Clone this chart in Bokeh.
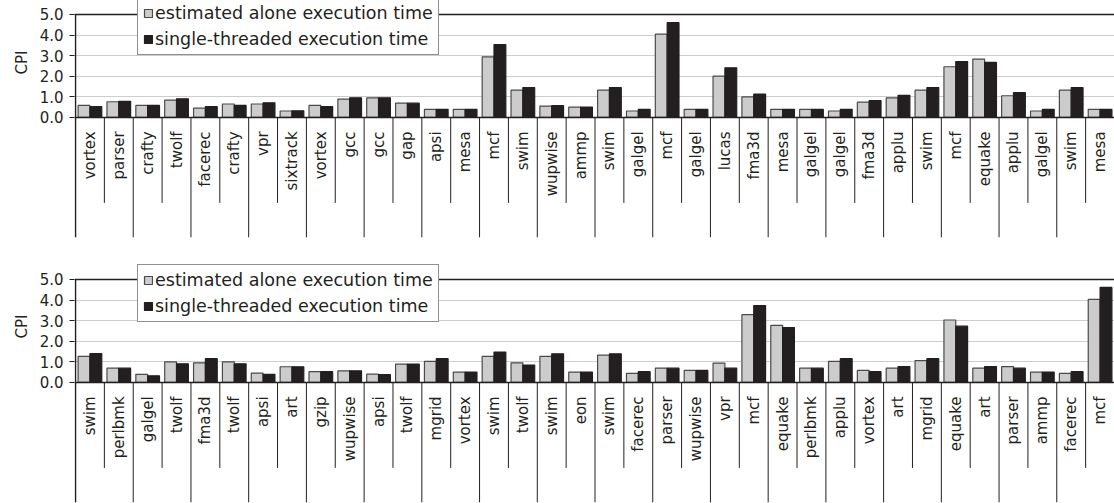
import numpy as np
from math import pi

from bokeh.plotting import figure
from bokeh.layouts import column
from bokeh.models import (Range1d, FixedTicker, PrintfTickFormatter, Span,
                          Legend, LegendItem, Title)
from bokeh.core.properties import value
from bokeh.embed import file_html
from bokeh.resources import INLINE

# ---- data -------------------------------------------------------------
top_benchmarks = ["vortex", "parser", "crafty", "twolf", "facerec", "crafty",
                  "vpr", "sixtrack", "vortex", "gcc", "gcc", "gap",
                  "apsi", "mesa", "mcf", "swim", "wupwise", "ammp",
                  "swim", "galgel", "mcf", "galgel", "lucas", "fma3d",
                  "mesa", "galgel", "galgel", "fma3d", "applu", "swim",
                  "mcf", "equake", "applu", "galgel", "swim", "mesa"]
top_estimated = [0.58, 0.76, 0.58, 0.84, 0.45, 0.65,
                 0.65, 0.31, 0.58, 0.89, 0.95, 0.69,
                 0.39, 0.39, 2.94, 1.32, 0.55, 0.50,
                 1.32, 0.31, 4.04, 0.39, 2.00, 1.00,
                 0.39, 0.39, 0.31, 0.74, 0.95, 1.32,
                 2.46, 2.83, 1.05, 0.31, 1.32, 0.39]
top_single = [0.52, 0.78, 0.58, 0.90, 0.52, 0.58,
              0.71, 0.32, 0.52, 0.95, 0.95, 0.69,
              0.39, 0.39, 3.54, 1.45, 0.57, 0.50,
              1.45, 0.39, 4.60, 0.39, 2.41, 1.13,
              0.39, 0.39, 0.39, 0.82, 1.07, 1.45,
              2.71, 2.67, 1.21, 0.39, 1.45, 0.39]

bottom_benchmarks = ["swim", "perlbmk", "galgel", "twolf", "fma3d", "twolf",
                     "apsi", "art", "gzip", "wupwise", "apsi", "twolf",
                     "mgrid", "vortex", "swim", "twolf", "swim", "eon",
                     "swim", "facerec", "parser", "wupwise", "vpr", "mcf",
                     "equake", "perlbmk", "applu", "vortex", "art", "mgrid",
                     "equake", "art", "parser", "ammp", "facerec", "mcf"]
bottom_estimated = [1.26, 0.69, 0.39, 1.00, 0.95, 1.00,
                    0.45, 0.76, 0.52, 0.56, 0.40, 0.89,
                    1.02, 0.50, 1.26, 0.95, 1.26, 0.50,
                    1.32, 0.44, 0.69, 0.58, 0.94, 3.29,
                    2.77, 0.69, 1.02, 0.58, 0.69, 1.06,
                    3.03, 0.69, 0.77, 0.50, 0.44, 4.03]
bottom_single = [1.40, 0.69, 0.32, 0.90, 1.15, 0.90,
                 0.39, 0.76, 0.52, 0.56, 0.38, 0.89,
                 1.15, 0.50, 1.47, 0.84, 1.39, 0.50,
                 1.39, 0.52, 0.69, 0.58, 0.69, 3.73,
                 2.66, 0.69, 1.15, 0.52, 0.77, 1.15,
                 2.73, 0.77, 0.69, 0.50, 0.52, 4.61]

y_ticks = [0, 1, 2, 3, 4, 5]
series_names = ["estimated alone execution time",
                "single-threaded execution time"]

# ---- style ------------------------------------------------------------
FONT = "DejaVu Sans"
LIGHT = "#cccccc"
LIGHT_EDGE = "#4a4a4a"
DARK = "#231f20"
INK = "#231f20"

Y_MAX = 5.0           # top of the value scale
Y_LABEL_ZONE = -5.83  # bottom of the category label zone (long separators)
Y_SHORT_SEP = -4.15   # bottom of the separators inside a pair
PX_PER_UNIT = 20.6


def make_panel(benchmarks, estimated, single, frame_h, border_bottom,
               legend_y, cpi_offset):
    n = len(benchmarks)
    centers = np.arange(n) + 0.5
    y_top = Y_LABEL_ZONE + frame_h / PX_PER_UNIT

    p = figure(frame_width=1040, frame_height=frame_h,
               x_range=Range1d(-0.035, n), y_range=Range1d(Y_LABEL_ZONE, y_top),
               output_backend="svg", toolbar_location=None,
               x_axis_location=None,
               min_border_left=74, min_border_right=0,
               min_border_top=0, min_border_bottom=border_bottom,
               background_fill_color="white", border_fill_color="white")
    p.outline_line_color = None

    # y axis (line drawn separately so it stops at 5.0)
    yax = p.yaxis[0]
    yax.ticker = FixedTicker(ticks=y_ticks)
    yax.formatter = PrintfTickFormatter(format="%.1f")
    yax.axis_line_color = None
    yax.major_tick_line_color = INK
    yax.major_tick_line_width = 1
    yax.major_tick_out = 5
    yax.major_tick_in = 0
    yax.minor_tick_line_color = None
    yax.major_label_text_font = FONT
    yax.major_label_text_font_size = "15px"
    yax.major_label_text_color = INK
    yax.major_label_standoff = 6

    # grid
    p.xgrid.visible = False
    p.ygrid.ticker = FixedTicker(ticks=y_ticks[1:-1])
    p.ygrid.grid_line_color = "#9a9a9a"
    p.ygrid.grid_line_dash = "1 1"
    p.ygrid.grid_line_width = 1

    # top border of the value area
    p.add_layout(Span(location=Y_MAX, dimension="width", line_color=INK,
                      line_width=1.5, level="underlay"))

    # bars
    r_est = p.vbar(x=centers - 0.205, top=estimated, bottom=0, width=0.41,
                   fill_color=LIGHT, line_color=LIGHT_EDGE, line_width=1.2)
    r_single = p.vbar(x=centers + 0.205, top=single, bottom=0, width=0.41,
                      fill_color=DARK, line_color=DARK, line_width=1.2)

    # baseline
    p.add_layout(Span(location=0, dimension="width", line_color=INK,
                      line_width=1.5))

    # left axis line running from the top of the scale through the label zone
    p.segment(x0=[0], y0=[Y_MAX], x1=[0], y1=[Y_LABEL_ZONE],
              line_color=INK, line_width=1.5)

    # category separators: short ones inside a pair, long ones between pairs
    short_x = np.arange(1, n, 2)
    long_x = np.arange(2, n + 1, 2)
    p.segment(x0=short_x, y0=0, x1=short_x, y1=Y_SHORT_SEP,
              line_color=INK, line_width=1)
    p.segment(x0=long_x, y0=0, x1=long_x, y1=Y_LABEL_ZONE,
              line_color=INK, line_width=1)

    # rotated benchmark names
    p.text(x=centers, y=-0.68, text=benchmarks, angle=pi / 2,
           text_align="right", text_baseline="middle",
           text_font=value(FONT), text_font_size="15px", text_color=INK)

    # y axis title
    p.add_layout(Title(text="CPI", align="right", offset=cpi_offset,
                       text_font=FONT, text_font_size="15px",
                       text_font_style="normal", text_color=INK,
                       standoff=12), "left")

    legend = Legend(items=[LegendItem(label=series_names[0], renderers=[r_est]),
                           LegendItem(label=series_names[1], renderers=[r_single])],
                    location=(63, legend_y), orientation="vertical",
                    border_line_color=INK, border_line_width=1,
                    background_fill_color="white", background_fill_alpha=1,
                    label_text_font=FONT, label_text_font_size="17.5px",
                    label_text_color=INK, glyph_width=10, glyph_height=10,
                    label_standoff=2, label_height=20, spacing=6,
                    padding=5, margin=0)
    p.add_layout(legend)
    return p


top = make_panel(top_benchmarks, top_estimated, top_single,
                 frame_h=237, border_bottom=27, legend_y=182, cpi_offset=50)
bottom = make_panel(bottom_benchmarks, bottom_estimated, bottom_single,
                    frame_h=238, border_bottom=1, legend_y=180, cpi_offset=50)

layout = column(top, bottom, spacing=0)

with open("out.html", "w") as f:
    f.write(file_html(layout, INLINE))
